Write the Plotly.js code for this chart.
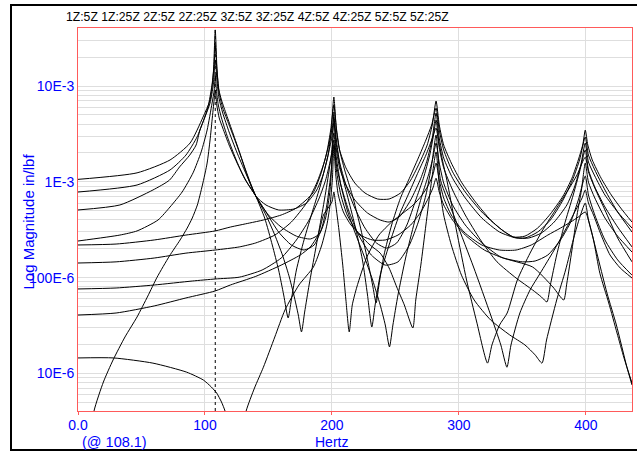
<!DOCTYPE html>
<html>
<head>
<meta charset="utf-8">
<script src="https://cdn.plot.ly/plotly-3.0.1.min.js"></script>
<style>html,body{margin:0;padding:0;background:#fff;}#chart{width:637px;height:451px;}</style>
</head>
<body>
<div id="chart"></div>
<script>
// ---- data (Hz, in/lbf) ----
const traceNames = ["1Z:5Z","1Z:25Z","2Z:5Z","2Z:25Z","3Z:5Z","3Z:25Z","4Z:5Z","4Z:25Z","5Z:5Z","5Z:25Z"];

const f_1Z5Z = [0,46.5,72.5,88.3,98.5,104,106.5,108.1,109.5,111,113,117,122,128,134,140,148,158,170,180,188,193,197,199.5,201.5,203.5,206,211,218,226,236,245,254,262,270,275,279,282,284.5,288,294,302,313,325,336,343,352,362,372,382,389,394,397.5,399.5,401.5,405,412,420,428,436.3];
const m_1Z5Z = [1.06e-3,1.24e-3,1.69e-3,2.54e-3,4.75e-3,7.14e-3,1.30e-2,3.85e-2,1.47e-2,9.09e-3,7.14e-3,4.98e-3,3.23e-3,1.90e-3,1.09e-3,7.11e-4,5.73e-4,5.08e-4,5.20e-4,6.01e-4,8.21e-4,1.18e-3,1.90e-3,3.47e-3,7.67e-3,3.47e-3,2.15e-3,1.40e-3,9.71e-4,7.64e-4,6.61e-4,6.61e-4,7.64e-4,1.04e-3,1.69e-3,2.42e-3,3.92e-3,6.97e-3,3.92e-3,2.42e-3,1.57e-3,9.91e-4,6.16e-4,3.99e-4,2.99e-4,2.65e-4,2.71e-4,3.29e-4,4.61e-4,7.11e-4,1.09e-3,1.69e-3,2.42e-3,3.47e-3,2.42e-3,1.69e-3,1.09e-3,7.28e-4,5.20e-4,3.80e-4];

const f_1Z25Z = [0,30,60,85,108,120,135,146,160,172,185,191,196,199,201.5,203.5,206,210,216,222,228,232,234.8,237,241,247,254,261,268,274,278.5,282,284.5,288,295,305,318,332,343,352,362,372,382,390,395,399.5,402,407,415,425,436.3];
const m_1Z25Z = [2.19e-4,2.24e-4,2.47e-4,2.78e-4,3.07e-4,3.37e-4,3.71e-4,3.99e-4,4.50e-4,5.33e-4,7.64e-4,1.18e-3,2.05e-3,3.47e-3,6.33e-3,3.64e-3,2.15e-3,1.33e-3,7.28e-4,3.54e-4,1.53e-4,8.37e-5,5.43e-5,8.37e-5,1.72e-4,3.54e-4,6.78e-4,1.09e-3,1.77e-3,2.73e-3,3.92e-3,5.88e-3,3.47e-3,2.15e-3,1.27e-3,7.82e-4,4.84e-4,3.29e-4,2.65e-4,2.59e-4,2.99e-4,3.99e-4,6.46e-4,1.09e-3,1.69e-3,2.94e-3,1.90e-3,1.33e-3,8.21e-4,4.84e-4,2.99e-4];

const f_2Z5Z = [0,46.5,72.5,85,93.8,99,102.4,105.5,107.2,108.1,109.3,111,114,119,125,132,140,150,160,172,183,190,195,198.5,200.3,201.5,203,206,211,218,228,238,245,253,262,270,275,279,282,284.5,288,295,305,318,332,345,355,365,375,385,391,396,399.5,402,407,415,425,436.3];
const m_2Z5Z = [7.82e-4,9.26e-4,1.33e-3,1.90e-3,2.94e-3,4.42e-3,6.03e-3,1.02e-2,1.66e-2,2.68e-2,1.54e-2,8.66e-3,5.88e-3,3.92e-3,2.42e-3,1.33e-3,7.11e-4,4.50e-4,3.37e-4,2.71e-4,2.53e-4,2.85e-4,4.19e-4,8.21e-4,2.15e-3,5.35e-3,2.42e-3,1.40e-3,9.26e-4,6.46e-4,4.72e-4,3.99e-4,3.80e-4,4.29e-4,6.46e-4,1.09e-3,1.69e-3,2.86e-3,5.22e-3,2.86e-3,1.77e-3,1.09e-3,6.78e-4,4.19e-4,2.99e-4,2.59e-4,2.59e-4,2.92e-4,3.80e-4,5.73e-4,8.82e-4,1.50e-3,2.54e-3,1.61e-3,1.15e-3,7.28e-4,4.84e-4,3.29e-4];

const f_2Z25Z = [0,30,60,85,108,127,140,155,168,180,188,194,198,200.2,201.5,203.5,206,211,218,226,235,243,251,259,266,272,277,280,282,284,287,290.5,298,306,314,322.5,326,332,338,346,356,366,376,386,393,399.5,402,407,415,425,436.3];
const m_2Z25Z = [1.42e-4,1.46e-4,1.60e-4,1.80e-4,1.94e-4,2.09e-4,2.30e-4,2.78e-4,3.80e-4,6.01e-4,9.71e-4,1.61e-3,2.60e-3,3.64e-3,4.64e-3,2.73e-3,1.61e-3,9.26e-4,5.33e-4,3.29e-4,2.30e-4,2.03e-4,2.30e-4,3.54e-4,6.46e-4,1.09e-3,1.90e-3,3.08e-3,4.42e-3,2.73e-3,1.69e-3,1.04e-3,3.14e-4,9.44e-5,3.44e-5,1.28e-5,1.98e-5,3.20e-5,4.27e-5,9.44e-5,1.80e-4,3.14e-4,5.08e-4,8.21e-4,1.18e-3,1.81e-3,1.27e-3,8.61e-4,5.08e-4,2.59e-4,1.46e-4];

const f_3Z5Z = [0,33,59,72,80,88,93,96,100,104,106.5,108.1,109.4,111,114,119,125,132,140,147,153,158,162,165.5,168,172,178,185,191,196,199.5,201.5,203.5,207,212,218,224,228,231.4,234,238,245,253,261,268,274,278.5,282,284.5,288,295,305,317,330,345,358,365,369.3,372,377,383,390,395,399.5,402,407,415,425,436.3];
const m_3Z5Z = [5.08e-4,5.73e-4,8.21e-4,1.04e-3,1.43e-3,1.90e-3,2.42e-3,3.47e-3,4.75e-3,6.64e-3,1.02e-2,1.87e-2,1.16e-2,7.49e-3,5.22e-3,3.31e-3,2.05e-3,1.24e-3,7.11e-4,4.19e-4,2.19e-4,1.20e-4,6.58e-5,3.79e-5,5.84e-5,1.20e-4,2.47e-4,5.08e-4,9.26e-4,1.69e-3,2.73e-3,4.11e-3,2.42e-3,1.33e-3,7.28e-4,3.54e-4,1.53e-4,6.58e-5,3.05e-5,5.18e-5,1.06e-4,2.19e-4,4.50e-4,7.82e-4,1.27e-3,1.90e-3,2.73e-3,3.64e-3,2.26e-3,1.40e-3,8.21e-4,4.50e-4,2.47e-4,1.46e-4,9.90e-5,7.43e-5,6.27e-5,5.57e-5,8.37e-5,1.72e-4,3.54e-4,7.28e-4,1.27e-3,2.15e-3,1.33e-3,8.82e-4,5.46e-4,3.37e-4,2.09e-4];

const f_3Z25Z = [0,30,60,90,108,127,145,160,172,182,190,195,198.5,201.5,203.5,207,213,221,231,242,252,261,268,274,278.5,282,283.8,285.5,298,311.5,325,333,337.8,341,348,356,364,375,385,392,397,399.5,402,406,412,419,427,436.3];
const m_3Z25Z = [7.61e-5,7.79e-5,8.37e-5,9.21e-5,9.67e-5,1.01e-4,1.20e-4,1.60e-4,2.47e-4,3.99e-4,6.78e-4,1.04e-3,1.61e-3,2.42e-3,1.50e-3,9.26e-4,5.08e-4,2.78e-4,1.72e-4,1.35e-4,1.46e-4,2.19e-4,3.80e-4,7.28e-4,1.50e-3,3.08e-3,1.69e-3,1.04e-3,3.80e-4,1.29e-4,4.07e-5,1.98e-5,1.16e-5,1.98e-5,4.27e-5,7.43e-5,1.11e-4,1.94e-4,3.37e-4,5.08e-4,6.78e-4,8.21e-4,6.01e-4,4.50e-4,2.78e-4,1.72e-4,1.26e-4,9.90e-5];

const f_4Z5Z = [0,33,46.5,63,72.5,82,90.6,97,101.7,105.6,107.3,108.1,109,110.5,113,118,124,131,140,148,155,161,166,170,173.5,176,178.5,182,187,192,196,199.5,201.5,203.5,207,212,218,225,232,238,242,245.3,248,252,258,265,271,276,279.5,282,284.5,288,295,305,318,333,358,374,382.5,385,389,393,396.5,399.5,402,407,415,425,436.3];
const m_4Z5Z = [2.41e-4,2.78e-4,3.07e-4,3.99e-4,5.46e-4,7.82e-4,1.24e-3,2.05e-3,3.47e-3,6.64e-3,9.09e-3,1.30e-2,9.09e-3,6.33e-3,4.64e-3,2.86e-3,1.77e-3,1.09e-3,7.11e-4,4.50e-4,2.78e-4,1.72e-4,1.06e-4,6.58e-5,4.07e-5,2.71e-5,4.37e-5,8.37e-5,1.94e-4,4.50e-4,9.26e-4,1.90e-3,3.23e-3,1.77e-3,9.26e-4,5.08e-4,2.99e-4,1.72e-4,9.44e-5,5.18e-5,3.20e-5,1.89e-5,3.20e-5,6.58e-5,1.60e-4,3.80e-4,7.28e-4,1.18e-3,1.77e-3,2.54e-3,1.57e-3,9.71e-4,5.73e-4,3.54e-4,2.30e-4,1.64e-4,1.29e-4,7.98e-5,5.84e-5,8.78e-5,1.94e-4,4.50e-4,8.21e-4,1.57e-3,9.91e-4,6.78e-4,4.19e-4,2.71e-4,1.85e-4];

const f_4Z25Z = [0,30,60,85,108,120,140,160,175,183,189,193.3,197,200,201.5,203,205.5,208.5,211,213.6,216,219.6,227.5,237,247,256,264,271,276,279.5,282,284.5,288,294,304,318,332,345,357,370,380,388,394,399.5,402,408,416.6,424,432.3,436.3];
const m_4Z25Z = [4.07e-5,4.27e-5,5.06e-5,6.13e-5,7.25e-5,8.37e-5,1.03e-4,1.35e-4,1.72e-4,2.09e-4,2.78e-4,4.50e-4,5.33e-4,6.16e-4,7.82e-4,5.73e-4,3.14e-4,1.35e-4,5.84e-5,2.71e-5,5.18e-5,7.98e-5,1.64e-4,2.78e-4,3.80e-4,4.72e-4,5.73e-4,7.28e-4,9.26e-4,1.18e-3,1.57e-3,1.04e-3,6.78e-4,4.50e-4,2.99e-4,2.19e-4,1.94e-4,1.94e-4,2.19e-4,2.78e-4,3.29e-4,3.80e-4,4.29e-4,4.84e-4,3.99e-4,1.94e-4,6.90e-5,3.20e-5,1.16e-5,7.57e-6];

const f_5Z5Z = [0,6,12.6,20,27.6,37,46.5,55,62.3,72,80.4,86,90,94,98,101.7,104,105.6,107.2,108.1,109.3,111.2,114,119,126,133,140,148,158,168,178,186,192,196,199.5,201.5,203.5,207,212,220,230,238,245,251,257,263.7,266,270,274,278,282,284.5,288,294,302,312,325,340,352,360,365.4,369,377,384,390,394.5,399.5,402,406,411,418,424.5,430,436.3];
const m_5Z5Z = [2.02e-6,9.9e-7,4.05e-6,8.13e-6,1.38e-5,2.40e-5,3.88e-5,6.42e-5,1.01e-4,1.68e-4,2.47e-4,3.29e-4,4.19e-4,5.73e-4,9.26e-4,1.57e-3,2.73e-3,4.42e-3,7.14e-3,9.09e-3,6.33e-3,4.64e-3,3.64e-3,2.42e-3,1.50e-3,9.91e-4,7.11e-4,4.84e-4,2.99e-4,2.19e-4,1.94e-4,2.19e-4,3.29e-4,5.73e-4,1.33e-3,2.73e-3,1.33e-3,7.28e-4,4.50e-4,2.99e-4,2.19e-4,1.80e-4,1.26e-4,7.98e-5,5.18e-5,2.98e-5,5.84e-5,1.35e-4,3.54e-4,9.26e-4,2.05e-3,9.26e-4,4.50e-4,2.19e-4,1.06e-4,5.84e-5,3.61e-5,2.52e-5,1.98e-5,1.56e-5,1.28e-5,2.23e-5,5.84e-5,1.20e-4,2.47e-4,3.99e-4,6.01e-4,3.99e-4,2.47e-4,1.11e-4,5.43e-5,2.64e-5,1.45e-5,7.94e-6];

const f_5Z25Z = [0,28,59,85.6,98.7,105,109.2,113,115.8,119,124,128,132.4,139,146,155,163,174,185.4,192,196,198.5,200.3,201.5,203,205,209,215,224,232,242,252,262,270,276,279.5,282,284.5,288,295,305,320,335,350,360,370,380,388,394,399.5,402,407,415,425,436.3];
const m_5Z25Z = [1.45e-5,1.45e-5,1.28e-5,1.03e-5,8.53e-6,7.21e-6,6.24e-6,5.03e-6,4.05e-6,2.57e-6,9.9e-7,2.02e-6,4.05e-6,7.04e-6,1.16e-5,2.40e-5,4.59e-5,8.37e-5,1.29e-4,2.19e-4,3.54e-4,5.73e-4,1.04e-3,2.31e-3,1.18e-3,7.28e-4,4.84e-4,3.54e-4,2.71e-4,2.47e-4,2.47e-4,2.78e-4,3.54e-4,4.84e-4,6.78e-4,8.61e-4,1.09e-3,7.82e-4,5.73e-4,3.99e-4,2.78e-4,1.94e-4,1.60e-4,1.46e-4,1.49e-4,1.72e-4,2.47e-4,3.80e-4,6.46e-4,1.15e-3,7.28e-4,4.50e-4,2.47e-4,1.53e-4,1.06e-4];

const xTickVals = [0,100,200,300,400];
const xTickText = ["0.0","100","200","300","400"];
const yTickVals = [1e-5,1e-4,1e-3,1e-2];
const yTickText = ["10E-6","100E-6","1E-3","10E-3"];
const cursorHz = 108.1;

// ---- drawing ----
const freqs = [f_1Z5Z,f_1Z25Z,f_2Z5Z,f_2Z25Z,f_3Z5Z,f_3Z25Z,f_4Z5Z,f_4Z25Z,f_5Z5Z,f_5Z25Z];
const mags  = [m_1Z5Z,m_1Z25Z,m_2Z5Z,m_2Z25Z,m_3Z5Z,m_3Z25Z,m_4Z5Z,m_4Z25Z,m_5Z5Z,m_5Z25Z];
const traces = traceNames.map((n,i)=>({
  type:'scatter', mode:'lines', name:n, x:freqs[i], y:mags[i],
  line:{color:'#000000', width:1, shape:'spline', smoothing:0.6}, hoverinfo:'skip'
}));

const minorVals = [];
[1e-6,1e-5,1e-4,1e-3,1e-2].forEach(d=>{ for(let k=2;k<=9;k++) minorVals.push(k*d); });

const RED = '#ff5a5a', BLUE = '#0000ff', GRID = '#dedede';
const tickFont = {family:'"Liberation Sans", Arial, sans-serif', size:14, color:BLUE};

const W = 554, H = 383; // plot area size in px
const px = x => (x-78)/W, py = y => (411-y)/H;

const layout = {
  width:637, height:451,
  margin:{l:78, r:5, t:28, b:40, pad:0},
  paper_bgcolor:'#ffffff', plot_bgcolor:'#ffffff',
  showlegend:false, hovermode:false,
  xaxis:{
    range:[0,436.3], tickmode:'array', tickvals:xTickVals, ticktext:xTickText,
    showgrid:true, gridcolor:GRID, gridwidth:1, zeroline:false,
    showline:true, linecolor:RED, linewidth:1, mirror:true,
    ticks:'outside', ticklen:3, tickcolor:RED, tickfont:tickFont, ticklabelstandoff:-2
  },
  yaxis:{
    type:'log', range:[-5.3925,-1.3946], tickmode:'array', tickvals:yTickVals, ticktext:yTickText,
    showgrid:true, gridcolor:GRID, gridwidth:1, zeroline:false,
    showline:true, linecolor:RED, linewidth:1, mirror:true,
    ticks:'', tickfont:tickFont,
    minor:{tickmode:'array', tickvals:minorVals, showgrid:true, gridcolor:GRID, gridwidth:1, ticks:''}
  },
  shapes:[
    {type:'line', xref:'x', yref:'paper', x0:cursorHz, x1:cursorHz, y0:0, y1:1,
     line:{color:'#000000', width:1, dash:'3px,3px'}},
    {type:'rect', xref:'paper', yref:'paper', x0:px(11), x1:px(645), y0:py(450), y1:py(5),
     line:{color:'#000000', width:2}, fillcolor:'rgba(0,0,0,0)', layer:'above'}
  ],
  annotations:[
    {text:traceNames.join(' '), xref:'paper', yref:'paper', x:px(257), y:py(17),
     xanchor:'center', yanchor:'middle', showarrow:false, borderpad:0,
     font:{family:'"Liberation Sans", Arial, sans-serif', size:12.2, color:'#000000'}},
    {text:'Log Magnitude in/lbf', xref:'paper', yref:'paper', x:px(27.5), y:py(222),
     xanchor:'center', yanchor:'middle', textangle:-90, showarrow:false, borderpad:0,
     font:{family:'"Liberation Sans", Arial, sans-serif', size:15, color:BLUE}},
    {text:'Hertz', xref:'paper', yref:'paper', x:px(331), y:py(441.5),
     xanchor:'center', yanchor:'middle', showarrow:false, borderpad:0,
     font:{family:'"Liberation Sans", Arial, sans-serif', size:14, color:BLUE}},
    {text:'(@ ' + cursorHz.toFixed(1) + ')', xref:'paper', yref:'paper', x:px(114), y:py(441.5),
     xanchor:'center', yanchor:'middle', showarrow:false, borderpad:0,
     font:{family:'"Liberation Sans", Arial, sans-serif', size:14.5, color:BLUE}}
  ]
};

Plotly.newPlot('chart', traces, layout, {staticPlot:true, displayModeBar:false});
</script>
</body>
</html>
